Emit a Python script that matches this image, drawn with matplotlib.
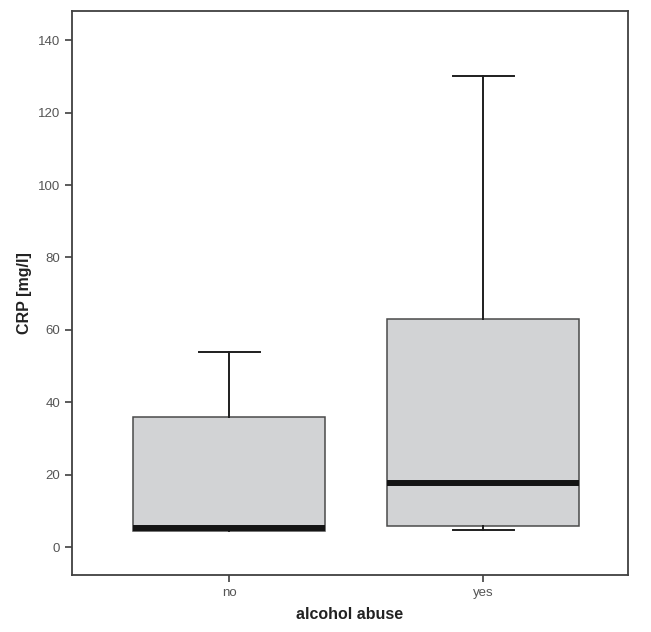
import matplotlib.pyplot as plt

# CRP boxplot by alcohol abuse
groups = ["no", "yes"]
whisker_low = [5.0, 4.7]
q1 = [4.5, 5.9]
median = [5.4, 17.6]
q3 = [36, 63]
whisker_high = [54, 130]
yticks = [0, 20, 40, 60, 80, 100, 120, 140]

plt.rcParams['font.family'] = ['Liberation Sans', 'DejaVu Sans']

stats = []
for i, g in enumerate(groups):
    stats.append(dict(label=g, whislo=whisker_low[i], q1=q1[i], med=median[i],
                      q3=q3[i], whishi=whisker_high[i], fliers=[]))

fig = plt.figure(figsize=(6.51, 6.32), dpi=100)
ax = fig.add_axes([0.1106, 0.0902, 0.854, 0.892])

ax.bxp(stats, positions=[0, 1], widths=0.756, patch_artist=True,
       showfliers=False,
       boxprops=dict(facecolor='#d2d3d5', edgecolor='#4a4a4a', linewidth=1.1),
       medianprops=dict(color='#141414', linewidth=4.3, solid_capstyle='butt'),
       whiskerprops=dict(color='#1e1e1e', linewidth=1.4),
       capprops=dict(color='#1e1e1e', linewidth=1.4),
       capwidths=0.24)

ax.set_xlim(-0.62, 1.57)
ax.set_ylim(-7.7, 148)
ax.set_yticks(yticks)
ax.set_xticks([0, 1])
ax.set_xticklabels(groups)

for s in ax.spines.values():
    s.set_color('#404040')
    s.set_linewidth(1.3)
ax.tick_params(colors='#404040', labelcolor='#555555', labelsize=9.5,
               length=5, width=1.2)

ax.set_ylabel("CRP [mg/l]", fontsize=11.5, fontweight='bold', color='#222222')
ax.set_xlabel("alcohol abuse", fontsize=11.5, fontweight='bold', color='#222222',
              labelpad=6)

fig.savefig("out.png", dpi=100)
